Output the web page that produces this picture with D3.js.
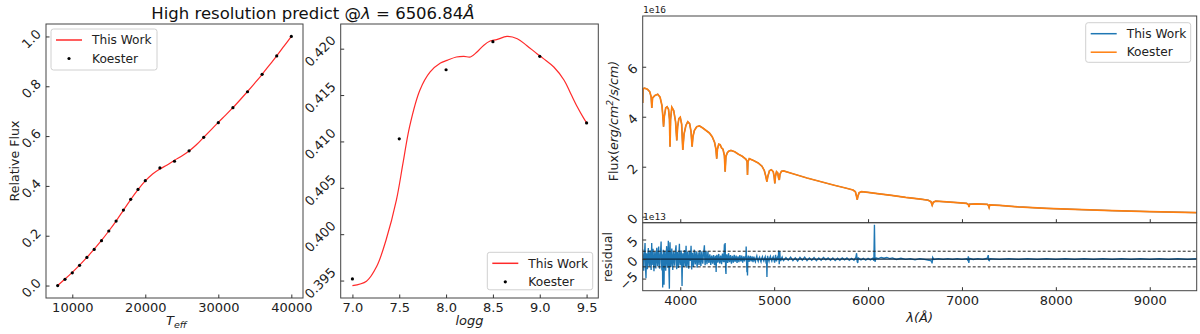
<!DOCTYPE html>
<html>
<head>
<meta charset="utf-8">
<script src="https://cdn.jsdelivr.net/npm/d3@7"></script>
<style>
body { margin: 0; background: #fff; }
svg { font-family: "DejaVu Sans", sans-serif; }
</style>
</head>
<body>
<svg width="1200" height="334"></svg>
<script>
// **** Data ****

// panel 1: flux vs Teff
var koesterTeff = [8000,9000,10000,11000,12000,13000,14000,15000,16000,17000,18000,19000,20000,22000,24000,26000,28000,30000,32000,34000,36000,38000,40000];
var koesterTeffFlux = [0.0,0.025,0.051,0.081,0.113,0.145,0.180,0.219,0.259,0.303,0.346,0.386,0.421,0.472,0.499,0.541,0.595,0.654,0.714,0.778,0.848,0.922,1.0];
var workTeff = [8000,9000,10000,11000,12000,13000,14000,15000,16000,17000,18000,19000,20000,21000,22000,23000,24000,25000,26000,27000,28000,29000,30000,31000,32000,33000,34000,35000,36000,37000,38000,39000,40000];
var workTeffFlux = [0.0,0.026,0.053,0.082,0.113,0.146,0.181,0.219,0.259,0.302,0.345,0.385,0.420,0.448,0.468,0.484,0.503,0.520,0.540,0.565,0.595,0.625,0.655,0.684,0.714,0.746,0.779,0.813,0.848,0.885,0.922,0.961,1.0];

// panel 2: flux vs logg
var koesterLogg = [7.0,7.5,8.0,8.5,9.0,9.5];
var koesterLoggFlux = [0.39518,0.41028,0.41773,0.42075,0.41917,0.41200];
var workLogg = [7.0,7.15,7.26,7.36,7.47,7.54,7.61,7.72,7.83,7.94,8.01,8.11,8.19,8.26,8.33,8.40,8.47,8.54,8.65,8.76,8.86,8.97,9.04,9.15,9.26,9.33,9.40,9.47,9.5];
var workLoggFlux = [0.39446,0.39493,0.39654,0.39940,0.40370,0.40765,0.41158,0.41552,0.41749,0.41845,0.41874,0.41910,0.41917,0.41910,0.41964,0.42035,0.42082,0.42097,0.42132,0.42107,0.42035,0.41946,0.41893,0.41802,0.41659,0.41516,0.41373,0.41248,0.41201];

// panel 3: spectrum (units of 1e16)
var specWave = [3600,3603,3620,3650,3675,3690,3697,3705,3730,3760,
  3785,3805,3815,3822,3830,3845,3860,3875,3885,3891,
  3897,3910,3930,3950,3963,3972,3985,4000,4015,4027,
  4040,4060,4080,4100,4115,4126,4135,4150,4175,4205,
  4240,4275,4310,4340,4365,4380,4388,4396,4410,4425,
  4440,4455,4470,4478,4486,4500,4515,4540,4580,4620,
  4660,4700,4712,4716,4721,4735,4780,4830,4870,4895,
  4912,4923,4933,4950,4970,4990,5000,5007,5014,5025,
  5038,5047,5055,5062,5078,5100,5200,5350,5500,5640,
  5760,5840,5865,5878,5885,5892,5905,5930,6000,6100,
  6250,6400,6560,6640,6670,6683,6695,6720,6800,6950,
  7050,7068,7075,7082,7150,7270,7282,7289,7296,7400,
  7600,7900,8200,8600,9000,9500];
var koesterSpec = [4.55,5.12,5.14,5.10,5.00,4.80,4.35,4.75,4.85,4.90,
  4.78,4.45,4.00,3.60,4.00,4.35,4.40,4.30,3.90,2.80,
  3.90,4.38,4.25,3.80,3.05,3.60,3.92,3.98,3.70,2.67,
  3.30,3.65,3.80,3.72,3.40,2.80,3.20,3.45,3.60,3.63,
  3.55,3.45,3.35,3.20,2.98,2.70,2.32,2.70,2.90,2.88,
  2.75,2.70,2.45,1.80,2.40,2.55,2.62,2.65,2.60,2.50,
  2.42,2.30,2.20,1.67,2.20,2.32,2.25,2.15,2.02,1.85,
  1.60,1.40,1.62,1.84,1.88,1.80,1.60,1.33,1.62,1.80,
  1.75,1.55,1.47,1.70,1.82,1.83,1.72,1.55,1.40,1.26,
  1.15,1.07,1.00,0.80,0.68,0.82,0.96,1.00,0.97,0.92,
  0.85,0.77,0.70,0.66,0.60,0.46,0.58,0.62,0.60,0.56,
  0.53,0.49,0.39,0.50,0.51,0.49,0.45,0.37,0.47,0.45,
  0.39,0.33,0.29,0.24,0.20,0.16];

// residual (units of 1e13), [wavelength, value]
var residual = [[3600,2.5],[3605,-1.2],[3610,-3.0],[3615,0.8],[3620,1.8],[3625,4.1],[3630,-2.2],[3635,-4.9],[3640,1.5],[3645,-0.6],[3650,-2.6],[3655,1.0],[3660,2.8],[3665,-0.4],[3670,-1.9],[3675,0.9],[3680,2.2],[3685,-1.1],[3690,-2.8],[3696,4.1],[3700,-1.5],[3705,0.6],[3710,2.6],[3715,-0.8],[3720,-3.1],[3725,0.5],[3730,1.9],[3735,-1.0],[3740,-2.4],[3745,1.2],[3750,2.9],[3755,-0.5],[3760,-1.8],[3765,1.4],[3770,3.2],[3775,-0.9],[3780,-2.5],[3785,0.7],[3790,1.7],[3796,4.5],[3800,-1.0],[3805,-2.9],[3810,1.2],[3813,-7.3],[3817,0.9],[3820,2.4],[3824,-1.5],[3827,-6.6],[3831,0.8],[3835,2.1],[3840,-0.9],[3845,-3.0],[3850,0.6],[3855,3.3],[3860,-0.7],[3865,-2.2],[3869,1.1],[3873,4.7],[3877,-0.6],[3880,-3.5],[3884,-7.6],[3887,1.2],[3891,4.3],[3895,0.2],[3900,-2.0],[3905,0.9],[3910,2.7],[3915,-0.7],[3920,-2.8],[3925,0.6],[3930,1.9],[3935,-0.3],[3940,-1.7],[3945,0.8],[3950,2.4],[3955,3.5],[3959,-0.5],[3962,-2.6],[3966,0.7],[3970,1.8],[3975,-0.6],[3980,-2.3],[3985,0.9],[3991,3.9],[3995,-0.4],[4000,-1.6],[4005,0.7],[4010,2.2],[4015,-0.9],[4019,-6.9],[4023,-1.0],[4027,1.5],[4031,-0.4],[4035,-2.0],[4040,0.8],[4045,2.3],[4050,-0.5],[4055,-1.8],[4058,0.6],[4062,3.4],[4066,-0.3],[4070,-2.2],[4075,0.5],[4080,1.9],[4085,-0.7],[4090,-2.5],[4095,0.6],[4100,2.1],[4108,-0.5],[4115,3.4],[4119,0.2],[4122,-2.7],[4126,0.4],[4130,1.6],[4135,-0.6],[4140,-2.0],[4145,0.7],[4150,2.4],[4155,-0.3],[4160,-1.4],[4165,0.8],[4170,2.0],[4175,-0.5],[4180,-2.2],[4185,0.6],[4190,1.7],[4195,-0.4],[4200,-1.5],[4205,0.8],[4210,2.3],[4215,-0.4],[4220,-1.8],[4225,0.6],[4230,2.0],[4235,-0.2],[4240,-1.2],[4245,0.7],[4250,1.8],[4257,3.5],[4261,0.1],[4265,-1.6],[4270,0.5],[4275,2.1],[4280,-0.3],[4285,-1.3],[4290,0.6],[4295,1.9],[4300,-0.2],[4305,-1.0],[4310,0.4],[4315,1.2],[4320,-0.3],[4325,-1.5],[4330,0.3],[4335,0.9],[4340,-0.4],[4345,-1.2],[4350,0.3],[4355,1.0],[4360,-0.5],[4365,-1.6],[4370,0.2],[4375,0.8],[4379,-0.6],[4382,-3.3],[4386,0.3],[4390,1.1],[4395,-0.2],[4400,-0.9],[4405,0.4],[4410,1.3],[4415,-0.3],[4420,-1.1],[4425,0.2],[4430,0.9],[4435,-0.4],[4440,-1.3],[4445,0.5],[4450,1.4],[4455,-0.2],[4460,-0.8],[4465,0.6],[4470,3.8],[4474,-0.8],[4478,4.1],[4481,0.3],[4484,-2.9],[4487,-3.8],[4490,0.4],[4496,1.2],[4500,-0.3],[4505,-1.0],[4510,0.3],[4515,1.5],[4520,-0.2],[4525,-0.8],[4530,0.4],[4535,1.0],[4540,-0.3],[4545,-1.2],[4550,0.2],[4555,0.8],[4560,-0.2],[4565,-0.9],[4570,0.3],[4575,1.1],[4580,-0.2],[4585,-0.7],[4590,0.3],[4595,0.9],[4600,-0.3],[4605,-1.0],[4610,0.2],[4615,0.7],[4620,-0.2],[4625,-0.8],[4630,0.3],[4635,1.0],[4640,-0.1],[4645,-0.6],[4650,0.3],[4655,0.9],[4660,-0.3],[4665,-0.9],[4670,0.2],[4675,0.7],[4680,-0.2],[4685,-0.6],[4690,0.3],[4695,0.8],[4699,0.1],[4702,3.2],[4706,-0.5],[4710,-3.4],[4713,0.4],[4716,-4.2],[4720,0.2],[4724,0.9],[4730,-0.2],[4735,-0.7],[4740,0.3],[4745,0.8],[4750,-0.1],[4755,-0.6],[4760,0.2],[4765,0.7],[4770,-0.2],[4775,-0.8],[4780,0.2],[4785,0.6],[4792,-0.3],[4800,-0.7],[4808,0.3],[4815,0.8],[4822,-0.1],[4830,-0.6],[4838,0.2],[4845,0.5],[4852,-0.2],[4860,-0.7],[4868,0.2],[4875,0.6],[4882,-0.1],[4890,-0.5],[4898,0.2],[4905,0.6],[4910,-0.3],[4915,-1.2],[4919,0.2],[4923,-4.6],[4927,-0.3],[4930,0.8],[4938,-0.1],[4945,-0.6],[4952,0.2],[4960,0.7],[4968,-0.1],[4975,-0.5],[4982,0.2],[4990,0.6],[4998,-0.2],[5005,-0.9],[5010,0.2],[5015,1.1],[5020,-0.1],[5025,-0.6],[5032,0.3],[5040,0.7],[5044,-0.2],[5048,2.2],[5051,0.1],[5054,-1.3],[5057,0.3],[5060,2.0],[5064,0.1],[5070,-0.5],[5078,0.2],[5085,0.5],[5092,-0.1],[5100,-0.4],
  [5125,0.4],[5150,-0.3],[5175,0.5],[5200,-0.4],[5225,0.3],[5250,-0.5],[5275,0.4],[5300,-0.3],[5325,0.5],[5350,-0.4],[5375,0.3],[5400,-0.3],[5425,0.4],[5450,-0.4],[5475,0.3],[5500,-0.3],[5525,0.4],[5550,-0.2],[5575,0.3],[5600,-0.3],[5625,0.3],[5650,-0.4],[5675,0.2],[5700,-0.3],[5725,0.3],[5750,-0.2],[5775,0.3],[5800,-0.3],[5825,0.2],[5850,-0.3],[5870,0.4],[5878,1.5],[5884,-0.6],[5890,-1.0],[5897,0.3],[5925,-0.2],[5950,0.2],[5975,-0.3],[6000,0.2],[6025,-0.2],[6050,0.2],[6062,-0.4],[6068,8.8],[6074,-0.7],[6085,0.3],[6110,0.1],[6140,0.4],[6170,0.2],[6200,0.4],[6230,0.1],[6260,0.3],[6300,-0.1],[6350,0.2],[6400,-0.1],[6450,0.1],[6500,-0.2],[6550,0.1],[6600,-0.1],[6650,-0.3],[6675,-0.5],[6682,-1.1],[6688,0.4],[6700,-0.1],[6750,0.1],[6800,-0.1],[6850,0.1],[6900,-0.1],[6950,0.1],[7000,-0.1],[7050,0.1],[7062,-0.3],[7068,0.7],[7073,-1.0],[7080,0.2],[7120,-0.1],[7170,0.1],[7220,-0.1],[7270,0.2],[7280,1.0],[7285,-0.3],[7290,-0.4],[7300,0.1],[7400,-0.1],[7500,0.1],[7600,-0.1],[7700,0.1],[7800,-0.1],[7900,0.1],[8000,-0.1],[8100,0.1],[8200,-0.1],[8300,0.1],[8400,-0.1],[8500,0.1],[8600,-0.1],[8700,0.1],[8800,-0.1],[8900,0.1],[9000,-0.1],[9100,0.1],[9200,-0.1],[9300,0.1],[9400,-0.1],[9500,0.1]];

var teffTicks = [10000,20000,30000,40000];
var fluxTicks = [0.0,0.2,0.4,0.6,0.8,1.0];
var loggTicks = [7.0,7.5,8.0,8.5,9.0,9.5];
var loggFluxTicks = [0.395,0.400,0.405,0.410,0.415,0.420];
var waveTicks = [4000,5000,6000,7000,8000,9000];
var specTicks = [0,2,4,6];
var resTicks = [-5,0,5];
var resBand = [-2,2];

// **** Helpers ****

var svg = d3.select('svg');
var FS = 13;
var RED = '#ff2a2a', BLUE = '#1f77b4', ORANGE = '#ff7f0e';

function frame(x0, y0, x1, y1) {
    svg.append('rect')
        .attr('x', x0).attr('y', y0)
        .attr('width', x1 - x0).attr('height', y1 - y0)
        .attr('fill', 'none').attr('stroke', '#444').attr('stroke-width', 1);
}

function bottomAxis(scale, yPos, ticks, fmt) {
    var g = svg.append('g').attr('transform', 'translate(0,' + yPos + ')')
        .call(d3.axisBottom(scale).tickValues(ticks).tickFormat(fmt)
            .tickSizeInner(-3.5).tickSizeOuter(0).tickPadding(5));
    g.select('.domain').remove();
    g.selectAll('line').attr('stroke', '#333');
    g.selectAll('text').attr('font-size', FS).attr('fill', '#222')
        .attr('font-family', '"DejaVu Sans", sans-serif');
}

// y labels rotated by 45 degrees, as in the figure
function leftAxis(scale, xPos, ticks, fmt) {
    var g = svg.append('g').attr('transform', 'translate(' + xPos + ',0)')
        .call(d3.axisLeft(scale).tickValues(ticks).tickFormat(fmt)
            .tickSizeInner(-3.5).tickSizeOuter(0));
    g.select('.domain').remove();
    g.selectAll('line').attr('stroke', '#333');
    g.selectAll('text')
        .attr('font-size', FS).attr('fill', '#222')
        .attr('font-family', '"DejaVu Sans", sans-serif')
        .attr('x', 0).attr('dy', null)
        .attr('text-anchor', 'middle')
        .attr('dominant-baseline', 'central')
        .attr('transform', function() {
            var w = this.getComputedTextLength();
            var half = (w + FS * 0.73) * 0.7071 / 2;
            return 'translate(' + (-(4 + half)) + ',2) rotate(-45)';
        });
}

function legend(x0, y0, w, h, rows) {
    var g = svg.append('g');
    g.append('rect').attr('x', x0).attr('y', y0).attr('width', w).attr('height', h)
        .attr('rx', 2.5).attr('fill', '#fff').attr('fill-opacity', 0.85)
        .attr('stroke', '#d0d0d0');
    rows.forEach(function(r, i) {
        var cy = y0 + 11 + i * 18.5;
        if (r.type === 'line') {
            g.append('line').attr('x1', x0 + 5).attr('x2', x0 + 31)
                .attr('y1', cy).attr('y2', cy)
                .attr('stroke', r.color).attr('stroke-width', 1.5);
        } else {
            g.append('circle').attr('cx', x0 + 18).attr('cy', cy).attr('r', 1.6).attr('fill', '#000');
        }
        g.append('text').attr('x', x0 + 41).attr('y', cy).attr('dy', '0.35em')
            .attr('font-size', 12.2).attr('fill', '#222').text(r.label);
    });
}

// **** Panel 1: Teff ****

var xTeff = d3.scaleLinear().domain([6400, 41600]).range([46, 303]);
var yTeff = d3.scaleLinear().domain([-0.05, 1.05]).range([298, 24]);

svg.append('path')
    .datum(d3.zip(workTeff, workTeffFlux))
    .attr('fill', 'none').attr('stroke', RED).attr('stroke-width', 1.2)
    .attr('d', d3.line().curve(d3.curveMonotoneX)
        .x(function(d) { return xTeff(d[0]); })
        .y(function(d) { return yTeff(d[1]); }));

svg.append('g').selectAll('circle')
    .data(d3.zip(koesterTeff, koesterTeffFlux))
    .enter().append('circle')
    .attr('cx', function(d) { return xTeff(d[0]); })
    .attr('cy', function(d) { return yTeff(d[1]); })
    .attr('r', 1.6).attr('fill', '#000');

frame(46, 24, 303, 298);
bottomAxis(xTeff, 298, teffTicks, d3.format('d'));
leftAxis(yTeff, 46, fluxTicks, d3.format('.1f'));

svg.append('text').attr('transform', 'translate(15,161) rotate(-90)')
    .attr('text-anchor', 'middle').attr('dy', '0.35em')
    .attr('font-size', 12.6).attr('fill', '#222').text('Relative Flux');

var tLab = svg.append('text').attr('x', 166).attr('y', 325)
    .attr('font-size', 13).attr('fill', '#222').attr('font-style', 'italic');
tLab.append('tspan').text('T');
tLab.append('tspan').attr('dy', 3).attr('font-size', 9.5).text('eff');

legend(51, 29, 106, 41, [
    { type: 'line', color: RED, label: 'This Work' },
    { type: 'dot', label: 'Koester' }
]);

// **** Panel 2: logg ****

var xLogg = d3.scaleLinear().domain([6.875, 9.625]).range([340.7, 598.3]);
var yLogg = d3.scaleLinear().domain([0.39312, 0.42266]).range([298, 24]);

svg.append('path')
    .datum(d3.zip(workLogg, workLoggFlux))
    .attr('fill', 'none').attr('stroke', RED).attr('stroke-width', 1.2)
    .attr('d', d3.line().curve(d3.curveCatmullRom)
        .x(function(d) { return xLogg(d[0]); })
        .y(function(d) { return yLogg(d[1]); }));

svg.append('g').selectAll('circle')
    .data(d3.zip(koesterLogg, koesterLoggFlux))
    .enter().append('circle')
    .attr('cx', function(d) { return xLogg(d[0]); })
    .attr('cy', function(d) { return yLogg(d[1]); })
    .attr('r', 1.6).attr('fill', '#000');

frame(340.7, 24, 598.3, 298);
bottomAxis(xLogg, 298, loggTicks, d3.format('.1f'));
leftAxis(yLogg, 340.7, loggFluxTicks, d3.format('.3f'));

svg.append('text').attr('x', 469.5).attr('y', 325).attr('text-anchor', 'middle')
    .attr('font-size', 13).attr('fill', '#222').attr('font-style', 'italic').text('logg');

legend(487.3, 252.3, 105.4, 37.5, [
    { type: 'line', color: RED, label: 'This Work' },
    { type: 'dot', label: 'Koester' }
]);

// title
var title = svg.append('text').attr('x', 313).attr('y', 18.5).attr('text-anchor', 'middle')
    .attr('font-size', 16.5).attr('fill', '#111');
title.append('tspan').text('High resolution predict @');
title.append('tspan').attr('font-style', 'italic').text('λ');
title.append('tspan').text(' = 6506.84');
title.append('tspan').attr('font-style', 'italic').text('Å');

// **** Panel 3: spectrum + residual ****

var xWave = d3.scaleLinear().domain([3600, 9500]).range([642.7, 1196.7]);
var ySpec = d3.scaleLinear().domain([-0.24, 8.03]).range([222.7, 16]);
var yRes = d3.scaleLinear().domain([-8.1, 9.3]).range([290.7, 222.7]);

svg.append('defs').append('clipPath').attr('id', 'clipR')
    .append('rect').attr('x', 642.7).attr('y', 16).attr('width', 554).attr('height', 274.7);

var specLine = d3.line()
    .x(function(d) { return xWave(d[0]); })
    .y(function(d) { return ySpec(d[1]); });

// This Work sits under Koester and is hidden by it
svg.append('path').datum(d3.zip(specWave, koesterSpec))
    .attr('clip-path', 'url(#clipR)')
    .attr('fill', 'none').attr('stroke', BLUE).attr('stroke-width', 1.2).attr('d', specLine);
svg.append('path').datum(d3.zip(specWave, koesterSpec))
    .attr('clip-path', 'url(#clipR)')
    .attr('fill', 'none').attr('stroke', ORANGE).attr('stroke-width', 1.7).attr('d', specLine);

svg.append('path').datum(residual)
    .attr('clip-path', 'url(#clipR)')
    .attr('fill', 'none').attr('stroke', BLUE).attr('stroke-width', 1.35)
    .attr('d', d3.line()
        .x(function(d) { return xWave(d[0]); })
        .y(function(d) { return yRes(d[1]); }));

svg.append('line').attr('x1', 642.7).attr('x2', 1196.7)
    .attr('y1', yRes(0)).attr('y2', yRes(0))
    .attr('stroke', '#0c2a44').attr('stroke-width', 1.3);

svg.append('g').selectAll('line').data(resBand).enter().append('line')
    .attr('x1', 642.7).attr('x2', 1196.7)
    .attr('y1', function(d) { return yRes(d); })
    .attr('y2', function(d) { return yRes(d); })
    .attr('stroke', '#222').attr('stroke-width', 1).attr('stroke-dasharray', '3,2');

frame(642.7, 16, 1196.7, 222.7);
frame(642.7, 222.7, 1196.7, 290.7);

bottomAxis(xWave, 222.7, waveTicks, function() { return ''; });
bottomAxis(xWave, 290.7, waveTicks, d3.format('d'));
leftAxis(ySpec, 642.7, specTicks, d3.format('d'));
leftAxis(yRes, 642.7, resTicks, function(d) { return d < 0 ? '\u2212' + (-d) : d; });

svg.append('text').attr('x', 643).attr('y', 13).attr('font-size', 9.5)
    .attr('font-family', '"DejaVu Sans Mono", monospace').attr('fill', '#222').text('1e16');
svg.append('text').attr('x', 643).attr('y', 219.5).attr('font-size', 9.5)
    .attr('font-family', '"DejaVu Sans Mono", monospace').attr('fill', '#222').text('1e13');

var fLab = svg.append('text').attr('transform', 'translate(614,121) rotate(-90)')
    .attr('text-anchor', 'middle').attr('dy', '0.35em')
    .attr('font-size', 12.6).attr('fill', '#222');
fLab.append('tspan').text('Flux(');
fLab.append('tspan').attr('font-style', 'italic').text('erg/cm');
fLab.append('tspan').attr('font-style', 'italic').attr('font-size', 9).attr('dy', -5).text('2');
fLab.append('tspan').attr('font-style', 'italic').attr('dy', 5).text('/s/cm)');

svg.append('text').attr('transform', 'translate(608,257) rotate(-90)')
    .attr('text-anchor', 'middle').attr('dy', '0.35em')
    .attr('font-size', 12.6).attr('fill', '#222').text('residual');

svg.append('text').attr('x', 919.7).attr('y', 322).attr('text-anchor', 'middle')
    .attr('font-size', 13).attr('fill', '#222').attr('font-style', 'italic')
    .text('λ(Å)');

legend(1085.7, 22.7, 105, 39.6, [
    { type: 'line', color: BLUE, label: 'This Work' },
    { type: 'line', color: ORANGE, label: 'Koester' }
]);
</script>
</body>
</html>
